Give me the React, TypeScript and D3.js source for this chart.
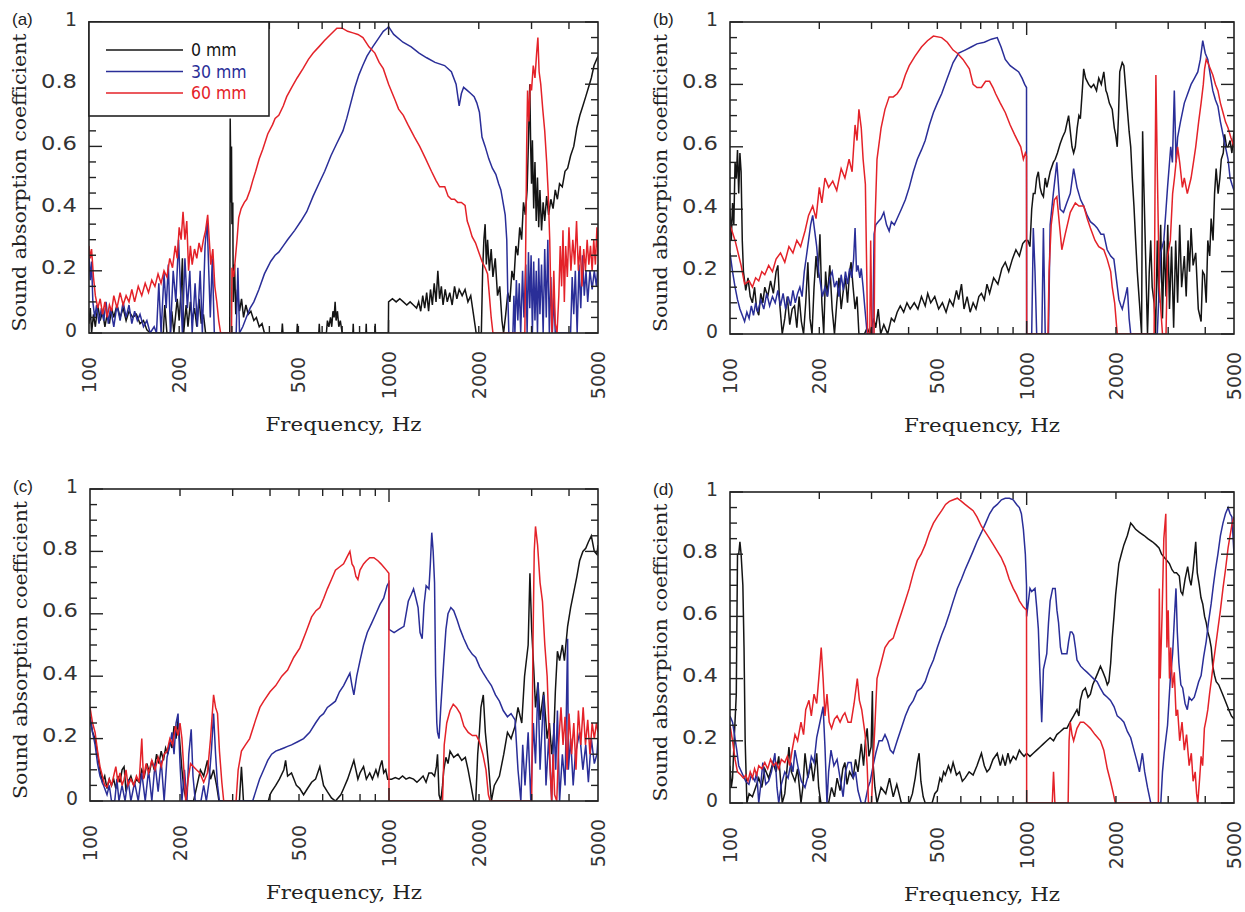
import React from "react";
import * as d3 from "d3";

type Pt = [number, number];

// ---------- data: [frequency Hz, absorption coefficient] ----------
const a0: Pt[] = [[100,0.03],[101,0.08],[102,0],[103.5,0.06],[105,0.02],[107,0.09],[109,0.04],[111,0.07],[113,0.02],[115,0.06],[117,0.03],[119,0.08],[121,0.05],[124,0.09],[127,0.05],[130,0.08],[133,0.04],[136,0.07],[140,0.05],[144,0.06],[148,0.03],[152,0.04],[156,0.01],[160,0],[177,0],[179,0.09],[182,0],[187,0],[189,0.07],[192,0],[197,0.11],[200,0.04],[203,0.14],[205,0.24],[207,0],[211,0.09],[214,0.02],[218,0.1],[221,0.04],[225,0.08],[229,0.02],[233,0.11],[237,0.03],[241,0.06],[245,0],[295,0],[296,0.69],[298,0.42],[299,0.6],[300,0.35],[302,0.42],[303,0.1],[306,0.22],[309,0.06],[313,0.14],[318,0.07],[323,0.11],[328,0.05],[334,0.09],[340,0.06],[347,0.07],[355,0.04],[362,0.05],[370,0.02],[378,0.03],[385,0],[440,0],[442,0.03],[444,0],[494,0],[496,0.03],[498,0],[585,0],[587,0.03],[589,0],[620,0],[625,0.04],[632,0.02],[640,0.05],[646,0.02],[652,0.07],[658,0.05],[663,0.1],[668,0.04],[675,0.07],[682,0.02],[690,0.04],[700,0],[760,0],[762,0.03],[764,0],[840,0],[842,0.03],[844,0],[900,0],[902,0.03],[904,0],[998,0],[1000,0.1],[1030,0.11],[1060,0.1],[1090,0.11],[1120,0.1],[1150,0.09],[1180,0.1],[1210,0.09],[1240,0.08],[1260,0.1],[1280,0.07],[1300,0.12],[1320,0.08],[1340,0.13],[1360,0.07],[1380,0.14],[1400,0.09],[1420,0.16],[1440,0.1],[1460,0.2],[1480,0.11],[1500,0.15],[1520,0.09],[1545,0.14],[1570,0.1],[1600,0.13],[1630,0.09],[1660,0.15],[1690,0.11],[1720,0.14],[1760,0.12],[1800,0.14],[1840,0.1],[1880,0.12],[1920,0.06],[1960,0],[2040,0],[2060,0.2],[2080,0.3],[2100,0.35],[2120,0.22],[2140,0.3],[2170,0.2],[2200,0.27],[2230,0.18],[2270,0.24],[2310,0.12],[2350,0.15],[2390,0.04],[2420,0],[2460,0.06],[2500,0.13],[2540,0.1],[2580,0.2],[2620,0.17],[2660,0.28],[2700,0.25],[2740,0.34],[2780,0.3],[2820,0.42],[2860,0.38],[2900,0.46],[2930,0.62],[2960,0.8],[2980,0.6],[3000,0.48],[3020,0.62],[3050,0.4],[3080,0.55],[3110,0.36],[3140,0.5],[3170,0.34],[3200,0.46],[3240,0.33],[3280,0.42],[3320,0.36],[3370,0.44],[3420,0.38],[3480,0.43],[3540,0.4],[3600,0.46],[3660,0.43],[3720,0.48],[3800,0.47],[3880,0.52],[3960,0.53],[4050,0.57],[4150,0.6],[4250,0.66],[4350,0.7],[4450,0.73],[4550,0.76],[4650,0.79],[4750,0.82],[4850,0.86],[4950,0.88],[5000,0.89]];

const a30: Pt[] = [[100,0.25],[101,0.17],[102,0.23],[103,0.1],[104.5,0.05],[106,0.09],[108,0.03],[110,0.08],[112,0.04],[114,0.1],[116,0.03],[118,0.08],[121,0.02],[124,0.09],[127,0.04],[130,0.1],[133,0.05],[136,0.09],[139,0.03],[142,0.07],[145,0.04],[148,0.06],[152,0.02],[156,0.04],[160,0],[165,0.02],[168,0],[171,0.16],[174,0],[178,0.19],[181,0.08],[184,0.22],[187,0],[191,0.2],[195,0.1],[199,0.3],[202,0.14],[205,0],[209,0.24],[213,0.08],[217,0.2],[221,0],[226,0.16],[230,0.02],[235,0.2],[239,0],[244,0.28],[248,0.36],[251,0.2],[254,0.05],[258,0.24],[262,0],[310,0],[314,0.21],[318,0],[326,0.02],[335,0.05],[345,0.08],[355,0.1],[369,0.14],[385,0.19],[404,0.23],[418,0.25],[430,0.26],[445,0.28],[460,0.3],[486,0.33],[510,0.36],[533,0.39],[560,0.44],[585,0.48],[612,0.52],[642,0.57],[672,0.61],[704,0.65],[725,0.69],[748,0.74],[772,0.79],[796,0.83],[820,0.86],[847,0.89],[885,0.92],[929,0.95],[960,0.97],[989,0.98],[1000,0.985],[1040,0.96],[1117,0.935],[1190,0.92],[1264,0.9],[1340,0.885],[1429,0.87],[1538,0.86],[1620,0.84],[1680,0.8],[1720,0.73],[1750,0.77],[1780,0.79],[1830,0.78],[1880,0.77],[1930,0.76],[1970,0.74],[2010,0.71],[2050,0.63],[2100,0.6],[2160,0.56],[2220,0.53],[2280,0.51],[2330,0.48],[2370,0.46],[2410,0.42],[2450,0.38],[2480,0.3],[2500,0.12],[2520,0],[2600,0],[2620,0.12],[2640,0],[2670,0.17],[2700,0.04],[2730,0.16],[2760,0],[2800,0.2],[2830,0.05],[2870,0.22],[2900,0],[2930,0.26],[2960,0.08],[2990,0.25],[3020,0],[3050,0.23],[3080,0.04],[3110,0.2],[3140,0],[3170,0.24],[3200,0.06],[3240,0.22],[3280,0],[3320,0.27],[3360,0.05],[3400,0.3],[3440,0],[3480,0.18],[3520,0],[3560,0.12],[3600,0],[4050,0],[4100,0.18],[4150,0.06],[4200,0.2],[4260,0],[4320,0.22],[4380,0.08],[4440,0.25],[4500,0.12],[4560,0.2],[4620,0.1],[4700,0.2],[4780,0.14],[4860,0.2],[4940,0.15],[5000,0.22]];

const a60: Pt[] = [[100,0.28],[101,0.24],[102,0.27],[103.5,0.18],[105,0.12],[107,0.08],[109,0.11],[111,0.06],[113,0.1],[115,0.05],[117,0.09],[119,0.07],[121,0.12],[124,0.08],[127,0.13],[130,0.09],[133,0.12],[136,0.1],[139,0.14],[142,0.1],[146,0.15],[150,0.12],[154,0.16],[158,0.13],[162,0.17],[166,0.15],[170,0.19],[174,0.16],[178,0.2],[182,0.18],[186,0.24],[190,0.21],[194,0.28],[197,0.24],[200,0.34],[203,0.3],[206,0.39],[209,0.3],[212,0.36],[215,0.2],[218,0.28],[221,0.22],[225,0.27],[229,0.24],[233,0.29],[237,0.26],[241,0.3],[245,0.33],[249,0.38],[252,0.3],[255,0.22],[259,0.27],[263,0.15],[267,0.1],[271,0.04],[275,0],[299,0],[300,0.21],[304,0.18],[308,0.24],[312,0.3],[316,0.37],[322,0.4],[330,0.42],[336,0.43],[345,0.46],[352,0.49],[360,0.52],[370,0.56],[380,0.59],[395,0.64],[410,0.67],[418,0.69],[430,0.7],[445,0.73],[457,0.76],[475,0.79],[495,0.82],[518,0.85],[540,0.88],[560,0.9],[585,0.92],[610,0.94],[640,0.96],[672,0.98],[700,0.98],[730,0.97],[760,0.965],[790,0.96],[821,0.95],[860,0.92],[900,0.9],[930,0.87],[960,0.85],[1000,0.8],[1050,0.75],[1080,0.72],[1120,0.7],[1160,0.67],[1220,0.63],[1270,0.6],[1330,0.56],[1390,0.52],[1440,0.49],[1480,0.47],[1540,0.47],[1580,0.44],[1620,0.43],[1660,0.43],[1700,0.42],[1750,0.42],[1800,0.41],[1830,0.36],[1860,0.34],[1900,0.31],[1950,0.29],[2000,0.26],[2050,0.23],[2100,0.21],[2140,0.19],[2170,0.12],[2200,0.05],[2230,0],[2850,0],[2870,0.3],[2890,0.6],[2910,0.78],[2940,0.68],[2970,0.8],[3000,0.78],[3040,0.86],[3080,0.82],[3120,0.9],[3150,0.95],[3180,0.84],[3220,0.8],[3270,0.72],[3320,0.65],[3370,0.55],[3410,0.45],[3450,0.3],[3480,0.12],[3510,0],[3560,0.2],[3600,0.03],[3650,0],[3700,0.12],[3740,0.28],[3780,0.15],[3820,0.33],[3860,0.1],[3900,0.28],[3950,0.18],[4000,0.34],[4060,0.2],[4120,0.3],[4180,0.22],[4240,0.36],[4300,0.2],[4360,0.28],[4420,0.15],[4480,0.27],[4540,0.2],[4600,0.3],[4660,0.22],[4720,0.28],[4780,0.2],[4840,0.3],[4900,0.22],[4960,0.34],[5000,0.25]];

const b0: Pt[] = [[100,0.4],[101,0.3],[102,0.42],[103,0.35],[104,0.55],[105,0.5],[106,0.59],[107,0.45],[108,0.58],[109,0.52],[110,0.3],[111,0.2],[113,0.14],[115,0.18],[117,0.12],[119,0.1],[121,0.15],[123,0.08],[125,0.06],[127,0.13],[129,0.1],[131,0.15],[134,0.12],[137,0.17],[140,0.13],[143,0.2],[145,0.22],[147,0.1],[150,0],[153,0.05],[156,0.12],[159,0.03],[162,0.08],[165,0.09],[168,0.02],[171,0.12],[174,0.04],[177,0],[180,0.1],[183,0.23],[186,0.05],[189,0],[192,0.15],[195,0.25],[198,0.18],[201,0.32],[204,0.1],[207,0],[210,0.2],[213,0.12],[217,0.22],[221,0.08],[225,0],[229,0.1],[233,0.18],[237,0.08],[241,0.14],[245,0.18],[249,0.1],[253,0.2],[256,0.23],[260,0.15],[264,0.08],[268,0.12],[272,0],[284,0],[290,0.02],[296,0],[305,0.05],[310,0.02],[316,0.08],[322,0],[330,0.03],[340,0],[350,0.05],[358,0.04],[366,0.07],[375,0.09],[385,0.07],[395,0.1],[405,0.08],[418,0.1],[430,0.08],[442,0.12],[455,0.09],[464,0.13],[475,0.1],[490,0.12],[505,0.08],[520,0.1],[535,0.07],[550,0.11],[565,0.09],[580,0.14],[590,0.11],[603,0.16],[615,0.08],[630,0.12],[645,0.07],[660,0.1],[675,0.08],[690,0.12],[704,0.13],[720,0.11],[735,0.16],[750,0.13],[774,0.18],[800,0.16],[825,0.21],[847,0.23],[870,0.2],[895,0.24],[920,0.27],[945,0.25],[970,0.29],[990,0.3],[1010,0.3],[1026,0.28],[1040,0.4],[1053,0.45],[1067,0.45],[1081,0.5],[1095,0.52],[1110,0.47],[1124,0.45],[1139,0.44],[1155,0.5],[1170,0.47],[1200,0.52],[1230,0.55],[1248,0.56],[1270,0.58],[1297,0.61],[1320,0.63],[1349,0.65],[1370,0.68],[1385,0.7],[1403,0.65],[1422,0.6],[1440,0.58],[1459,0.6],[1480,0.66],[1500,0.7],[1517,0.69],[1540,0.78],[1557,0.85],[1580,0.82],[1618,0.8],[1650,0.79],[1683,0.8],[1720,0.78],[1750,0.82],[1785,0.8],[1820,0.84],[1850,0.78],[1868,0.77],[1900,0.74],[1943,0.72],[1975,0.66],[1995,0.64],[2020,0.6],[2040,0.7],[2060,0.84],[2073,0.85],[2100,0.87],[2127,0.86],[2160,0.78],[2185,0.72],[2215,0.65],[2243,0.6],[2270,0.5],[2300,0.41],[2330,0.3],[2360,0.2],[2400,0.1],[2440,0],[2460,0.65],[2480,0.5],[2510,0.3],[2555,0],[2590,0.2],[2620,0.3],[2650,0.15],[2690,0.1],[2720,0],[2757,0.3],[2790,0.1],[2830,0.35],[2870,0.05],[2910,0.3],[2950,0.12],[2990,0.35],[3030,0.08],[3080,0.28],[3130,0.02],[3180,0.3],[3228,0.1],[3280,0.35],[3330,0.15],[3400,0.25],[3450,0.12],[3500,0.3],[3540,0.2],[3583,0.34],[3640,0.22],[3715,0.26],[3790,0.08],[3873,0.04],[3920,0.2],[3973,0.19],[4030,0.1],[4080,0.3],[4140,0.25],[4187,0.37],[4250,0.3],[4300,0.45],[4353,0.53],[4420,0.45],[4480,0.5],[4530,0.56],[4600,0.58],[4650,0.64],[4720,0.6],[4775,0.6],[4850,0.62],[4920,0.58],[5000,0.65]];

const b30: Pt[] = [[100,0.26],[102,0.2],[104,0.15],[106,0.11],[108,0.08],[110,0.06],[112,0.04],[114,0.07],[116,0.05],[118,0.09],[120,0.06],[122,0.1],[124,0.07],[127,0.11],[130,0.08],[133,0.13],[136,0.09],[139,0.12],[142,0.1],[145,0.14],[148,0.09],[151,0.13],[154,0.08],[157,0.12],[160,0.09],[163,0.14],[166,0.1],[169,0.13],[172,0.15],[175,0.12],[178,0.2],[181,0.25],[184,0.3],[187,0.35],[190,0.38],[193,0.33],[196,0.28],[199,0.2],[202,0.16],[205,0.12],[209,0.15],[213,0.12],[217,0.18],[221,0.2],[225,0.15],[229,0.17],[233,0.12],[237,0.19],[241,0.14],[245,0.2],[249,0.16],[253,0.21],[257,0.18],[261,0.24],[264,0.34],[267,0.2],[270,0.22],[274,0.18],[277,0.21],[281,0.15],[285,0.08],[290,0],[303,0],[306,0.32],[310,0.35],[316,0.36],[323,0.37],[330,0.39],[337,0.35],[344,0.33],[350,0.36],[358,0.35],[366,0.37],[378,0.4],[390,0.43],[402,0.47],[415,0.52],[428,0.56],[442,0.59],[455,0.62],[470,0.67],[485,0.71],[500,0.74],[517,0.77],[540,0.82],[565,0.87],[590,0.9],[620,0.91],[650,0.92],[680,0.93],[720,0.935],[760,0.945],[796,0.95],[820,0.92],[847,0.88],[880,0.86],[910,0.85],[940,0.84],[965,0.82],[985,0.8],[999,0.79],[1000,0],[1040,0],[1053,0.34],[1067,0.2],[1081,0],[1125,0],[1139,0.34],[1155,0],[1185,0],[1200,0.35],[1230,0.45],[1264,0.55],[1297,0.4],[1331,0.39],[1365,0.42],[1403,0.45],[1440,0.53],[1478,0.47],[1520,0.43],[1557,0.41],[1600,0.38],[1640,0.36],[1690,0.35],[1728,0.34],[1780,0.32],[1820,0.32],[1868,0.27],[1920,0.25],[1968,0.24],[2010,0.17],[2046,0.11],[2080,0.09],[2101,0.08],[2150,0.12],[2185,0.15],[2215,0.05],[2243,0],[2757,0],[2800,0.16],[2830,0.26],[2900,0.3],[2950,0.4],[2985,0.47],[3060,0.6],[3100,0.55],[3146,0.78],[3190,0.55],[3228,0.63],[3300,0.68],[3400,0.74],[3490,0.77],[3583,0.8],[3680,0.82],[3775,0.84],[3850,0.88],[3923,0.94],[4000,0.9],[4080,0.88],[4160,0.83],[4242,0.78],[4330,0.75],[4413,0.73],[4500,0.68],[4590,0.64],[4680,0.6],[4775,0.56],[4850,0.5],[4920,0.48],[5000,0.46]];

const b60: Pt[] = [[100,0.35],[104,0.3],[109,0.22],[112,0.16],[116,0.17],[119,0.15],[122,0.18],[125,0.17],[128,0.2],[131,0.19],[135,0.22],[139,0.2],[143,0.24],[148,0.26],[153,0.23],[158,0.28],[163,0.26],[168,0.3],[173,0.28],[179,0.33],[184,0.38],[190,0.41],[195,0.37],[200,0.47],[204,0.42],[209,0.5],[215,0.47],[222,0.49],[229,0.46],[237,0.53],[244,0.5],[252,0.56],[258,0.52],[264,0.67],[268,0.62],[272,0.72],[277,0.66],[281,0.56],[286,0.48],[289,0.2],[291,0],[296,0],[298,0.3],[301,0],[306,0],[308,0.35],[313,0.56],[323,0.66],[333,0.72],[344,0.76],[355,0.76],[366,0.77],[378,0.79],[390,0.83],[402,0.86],[420,0.89],[442,0.92],[463,0.94],[485,0.955],[517,0.95],[540,0.935],[565,0.91],[584,0.9],[610,0.88],[641,0.85],[660,0.8],[680,0.79],[704,0.79],[727,0.81],[750,0.81],[770,0.79],[786,0.77],[815,0.74],[847,0.71],[880,0.67],[910,0.64],[932,0.62],[955,0.6],[975,0.56],[990,0.58],[999,0.57],[1000,0],[1180,0],[1190,0.2],[1210,0.35],[1240,0.43],[1264,0.44],[1290,0.35],[1314,0.27],[1349,0.32],[1403,0.39],[1459,0.42],[1500,0.41],[1557,0.41],[1600,0.37],[1640,0.34],[1700,0.3],[1750,0.28],[1820,0.27],[1868,0.24],[1920,0.2],[1943,0.15],[1980,0.1],[2020,0],[2690,0],[2710,0.5],[2727,0.83],[2760,0.5],[2800,0.15],[2870,0],[2950,0],[2985,0.25],[3050,0.3],[3105,0.45],[3150,0.5],[3228,0.6],[3280,0.55],[3350,0.47],[3400,0.5],[3480,0.45],[3583,0.5],[3650,0.55],[3715,0.6],[3800,0.68],[3873,0.74],[3940,0.8],[3980,0.85],[4030,0.88],[4080,0.87],[4160,0.85],[4242,0.83],[4330,0.8],[4413,0.78],[4500,0.74],[4590,0.71],[4680,0.68],[4775,0.66],[4880,0.63],[5000,0.6]];

const c0: Pt[] = [[100,0.27],[102,0.22],[104,0.2],[106,0.15],[108,0.1],[110,0.06],[112,0.08],[114,0.04],[116,0.07],[118,0.05],[120,0.07],[122,0.04],[124,0.08],[126,0.06],[128,0.1],[130,0.11],[132,0.03],[134,0.06],[137,0.08],[140,0.05],[143,0.07],[146,0.06],[149,0.1],[152,0.08],[155,0.12],[158,0.09],[161,0.13],[164,0.1],[167,0.15],[170,0.12],[173,0.16],[176,0.13],[179,0.17],[182,0.15],[185,0.19],[188,0.17],[191,0.24],[194,0.2],[197,0.26],[200,0.18],[203,0.1],[206,0.04],[210,0],[222,0],[228,0.05],[234,0.1],[240,0.08],[247,0.13],[253,0.07],[259,0.1],[265,0.05],[270,0],[316,0],[321,0.11],[326,0],[395,0],[400,0.02],[405,0.03],[418,0.05],[430,0.07],[445,0.1],[451,0.13],[458,0.08],[472,0.09],[490,0.05],[503,0.04],[518,0.02],[534,0.04],[551,0.06],[568,0.07],[587,0.11],[604,0.05],[622,0.03],[642,0.01],[662,0],[690,0.02],[705,0.04],[727,0.07],[745,0.1],[763,0.13],[787,0.07],[800,0.09],[822,0.11],[840,0.07],[862,0.09],[880,0.07],[904,0.1],[918,0.08],[933,0.11],[947,0.13],[960,0.09],[975,0.1],[990,0.07],[1000,0.07],[1020,0.07],[1050,0.075],[1080,0.07],[1110,0.08],[1140,0.07],[1170,0.075],[1208,0.07],[1240,0.06],[1270,0.07],[1300,0.08],[1330,0.06],[1360,0.09],[1390,0.09],[1420,0.08],[1440,0.11],[1453,0.15],[1470,0.02],[1490,0],[1510,0.05],[1525,0.1],[1550,0.14],[1575,0.12],[1600,0.16],[1646,0.14],[1700,0.15],[1750,0.13],[1800,0.14],[1839,0.1],[1880,0.05],[1920,0],[1950,0],[1980,0.15],[2006,0.22],[2030,0.3],[2067,0.34],[2100,0.22],[2150,0.12],[2200,0],[2250,0.05],[2340,0.08],[2420,0.15],[2490,0.22],[2560,0.2],[2640,0.24],[2700,0.3],[2780,0.25],[2840,0.4],[2920,0.5],[2960,0.73],[3000,0.55],[3050,0.42],[3090,0.3],[3150,0.38],[3200,0.26],[3290,0.35],[3380,0.2],[3440,0.25],[3500,0.15],[3560,0.22],[3600,0.35],[3658,0.48],[3720,0.45],[3800,0.5],[3860,0.45],[3957,0.56],[4050,0.62],[4150,0.67],[4250,0.72],[4340,0.77],[4450,0.8],[4550,0.81],[4643,0.83],[4750,0.85],[4860,0.8],[4960,0.79],[5000,0.82]];

const c30: Pt[] = [[100,0.27],[102,0.22],[104,0.18],[106,0.12],[108,0.08],[110,0.06],[112,0.04],[114,0.02],[116,0.05],[118,0],[121,0],[123,0.07],[125,0],[128,0.05],[131,0],[134,0.07],[137,0],[141,0.06],[145,0],[149,0.09],[153,0],[157,0.1],[161,0],[165,0.12],[169,0.03],[173,0.13],[177,0],[181,0.14],[185,0.18],[188,0.22],[191,0.15],[194,0.25],[197,0.28],[200,0.12],[203,0],[207,0.1],[211,0],[214,0.15],[218,0.23],[221,0.08],[225,0],[235,0],[240,0.05],[245,0],[250,0.06],[255,0.17],[259,0.28],[263,0.15],[267,0.05],[271,0],[350,0],[358,0.03],[369,0.07],[381,0.1],[393,0.13],[405,0.15],[418,0.16],[432,0.165],[445,0.17],[458,0.175],[472,0.18],[495,0.19],[518,0.2],[543,0.22],[568,0.25],[587,0.27],[604,0.28],[622,0.3],[642,0.31],[662,0.32],[683,0.35],[705,0.37],[722,0.39],[740,0.41],[752,0.37],[763,0.34],[780,0.4],[800,0.45],[822,0.5],[846,0.54],[875,0.57],[904,0.6],[933,0.63],[960,0.65],[985,0.69],[999,0.7],[1000,0.55],[1040,0.54],[1080,0.55],[1122,0.56],[1160,0.64],[1185,0.66],[1208,0.68],[1230,0.65],[1251,0.62],[1270,0.54],[1291,0.52],[1310,0.63],[1331,0.69],[1360,0.68],[1375,0.76],[1390,0.86],[1405,0.8],[1420,0.7],[1432,0.4],[1445,0.25],[1453,0.22],[1470,0.2],[1490,0.3],[1525,0.45],[1550,0.55],[1575,0.6],[1610,0.62],[1646,0.61],[1690,0.58],[1730,0.55],[1780,0.52],[1839,0.49],[1900,0.47],[1950,0.46],[2010,0.43],[2067,0.41],[2130,0.39],[2200,0.37],[2270,0.34],[2340,0.32],[2410,0.29],[2490,0.27],[2560,0.28],[2640,0.26],[2700,0.1],[2760,0],[2800,0.18],[2850,0.05],[2920,0.22],[2980,0],[3040,0.25],[3090,0.12],[3150,0.38],[3200,0.1],[3290,0.34],[3350,0.05],[3420,0.2],[3500,0],[3560,0.25],[3610,0.1],[3658,0.29],[3720,0],[3800,0.15],[3880,0.05],[3957,0.52],[3980,0.1],[4050,0.2],[4130,0.05],[4200,0.15],[4340,0.22],[4450,0.1],[4550,0.18],[4643,0.06],[4750,0.2],[4860,0.12],[4960,0.15],[5000,0.2]];

const c60: Pt[] = [[100,0.3],[102,0.25],[104,0.22],[106,0.16],[108,0.11],[110,0.08],[112,0.05],[114,0.045],[116,0.07],[118,0.05],[120,0.08],[122,0.11],[124,0.06],[126,0.09],[128,0.05],[130,0.07],[132,0.1],[134,0.05],[137,0.07],[140,0.05],[143,0.08],[146,0.06],[149,0.2],[151,0.07],[154,0.12],[157,0.09],[161,0.13],[165,0.1],[169,0.14],[173,0.11],[177,0.15],[181,0.16],[185,0.2],[189,0.18],[193,0.24],[197,0.21],[200,0.25],[203,0.2],[206,0.1],[209,0],[213,0.07],[217,0.12],[222,0.11],[227,0.1],[233,0.09],[240,0.06],[247,0.09],[253,0.2],[259,0.34],[263,0.3],[267,0.28],[271,0.16],[276,0.06],[280,0],[308,0],[313,0.1],[321,0.16],[331,0.18],[342,0.2],[358,0.26],[370,0.3],[381,0.32],[400,0.35],[418,0.37],[438,0.4],[458,0.42],[480,0.46],[503,0.49],[527,0.54],[551,0.59],[570,0.61],[587,0.62],[605,0.65],[622,0.68],[642,0.71],[662,0.74],[683,0.75],[705,0.76],[722,0.78],[740,0.8],[752,0.76],[763,0.75],[775,0.72],[787,0.71],[800,0.74],[822,0.76],[840,0.77],[862,0.78],[890,0.78],[918,0.77],[940,0.76],[960,0.75],[980,0.74],[999,0.73],[1000,0],[1510,0],[1530,0.18],[1560,0.25],[1600,0.29],[1640,0.31],[1680,0.3],[1730,0.28],[1780,0.24],[1840,0.22],[1900,0.21],[1960,0.21],[2006,0.19],[2060,0.15],[2110,0.1],[2150,0.02],[2180,0],[3000,0],[3030,0.5],[3060,0.8],[3090,0.88],[3140,0.82],[3200,0.7],[3260,0.64],[3320,0.5],[3380,0.4],[3420,0.26],[3460,0.1],[3500,0],[3540,0.15],[3580,0.02],[3640,0],[3700,0.2],[3760,0.3],[3820,0.18],[3880,0.27],[3940,0.1],[4000,0.28],[4080,0.15],[4150,0.25],[4220,0.1],[4300,0.29],[4380,0.18],[4460,0.3],[4540,0.18],[4620,0.26],[4700,0.15],[4780,0.25],[4860,0.2],[4940,0.25],[5000,0.22]];

const d0: Pt[] = [[100,0.12],[101,0.05],[102,0.08],[103.5,0.22],[105,0.35],[106,0.8],[107,0.8],[108,0.84],[109,0.8],[110.5,0.7],[111.5,0.5],[112.5,0.2],[114,0],[116,0.03],[119,0.02],[122,0.05],[125,0.08],[128,0.05],[131,0.11],[135,0.08],[139.5,0.13],[143,0.1],[146,0.15],[150,0],[153,0.03],[156,0.12],[158,0.18],[161,0.1],[165.6,0.07],[169,0.11],[173.5,0],[176,0.05],[179,0.16],[183,0.08],[187.5,0.13],[191,0.07],[196,0.16],[199,0.05],[202.5,0],[215,0],[220,0.05],[225,0.02],[229.6,0.08],[235,0.04],[240,0.11],[244,0.13],[248,0.06],[253,0.1],[260,0.08],[265,0.14],[270,0.1],[277,0.19],[282,0.12],[286,0.2],[290,0.24],[294,0.15],[299,0.18],[302,0.36],[304,0.12],[308,0.05],[313,0],[323,0.05],[335,0.03],[345,0.08],[355,0.02],[365,0.06],[378,0],[402,0],[412,0.03],[421,0.08],[428,0.13],[434,0.16],[440,0.07],[448,0.02],[455,0],[480,0],[490,0.03],[500,0.04],[510,0.08],[517,0.07],[525,0.1],[532,0.09],[545,0.12],[555,0.1],[565,0.13],[580,0.09],[594,0.1],[607,0.07],[620,0.08],[640,0.1],[660,0.09],[680,0.12],[704,0.16],[720,0.12],[735,0.1],[750,0.11],[770,0.14],[796,0.16],[815,0.12],[830,0.15],[847,0.12],[865,0.16],[880,0.13],[901,0.15],[920,0.14],[945,0.17],[960,0.16],[980,0.15],[1000,0.16],[1026,0.15],[1053,0.16],[1081,0.17],[1110,0.18],[1139,0.19],[1169,0.2],[1200,0.21],[1232,0.2],[1264,0.22],[1300,0.23],[1335,0.24],[1367,0.24],[1400,0.26],[1440,0.28],[1478,0.3],[1500,0.28],[1517,0.33],[1545,0.36],[1577,0.37],[1610,0.34],[1640,0.35],[1670,0.38],[1705,0.4],[1740,0.42],[1773,0.44],[1810,0.42],[1844,0.4],[1870,0.38],[1893,0.39],[1920,0.45],[1943,0.53],[1970,0.6],[1995,0.67],[2020,0.72],[2046,0.77],[2085,0.8],[2127,0.83],[2185,0.86],[2243,0.9],[2290,0.89],[2330,0.88],[2400,0.87],[2488,0.86],[2560,0.85],[2655,0.84],[2730,0.83],[2794,0.82],[2850,0.8],[2908,0.79],[2970,0.78],[3028,0.77],[3090,0.75],[3146,0.74],[3200,0.74],[3270,0.73],[3310,0.68],[3357,0.67],[3420,0.72],[3490,0.76],[3540,0.72],[3583,0.7],[3640,0.75],[3715,0.84],[3760,0.74],[3820,0.7],[3870,0.66],[3923,0.64],[3980,0.6],[4030,0.58],[4080,0.55],[4135,0.53],[4190,0.5],[4240,0.44],[4300,0.41],[4355,0.39],[4440,0.38],[4530,0.36],[4620,0.34],[4710,0.32],[4800,0.3],[4900,0.28],[5000,0.27]];

const d30: Pt[] = [[100,0.28],[102,0.26],[103.5,0.22],[105.4,0.17],[107,0.12],[110.5,0.09],[113,0.07],[115.8,0.06],[118,0.09],[121.3,0.07],[123,0.1],[125,0],[127,0.06],[129,0.13],[132,0.06],[135,0.07],[138,0.1],[141.7,0.16],[144,0.05],[146,0],[149,0.06],[153,0.1],[157,0.08],[160.5,0.13],[163,0.1],[165.6,0.17],[170,0.11],[174,0.07],[179,0.05],[184.6,0.1],[188,0.15],[192,0.13],[196,0.21],[200,0.25],[203,0.28],[206,0.31],[209,0.18],[212.3,0],[215,0.1],[219,0.17],[224,0.12],[229.6,0.14],[235,0.08],[240.6,0.02],[245,0.1],[250,0.13],[256,0.13],[260,0.08],[265,0.1],[270,0.04],[277,0],[285,0],[292,0.05],[297,0.07],[303.7,0.12],[310,0.16],[318,0.2],[326,0.2],[333,0.22],[340,0.2],[347,0.17],[355,0.16],[366,0.2],[378,0.24],[390,0.28],[402,0.31],[415,0.33],[428,0.36],[442,0.37],[455,0.39],[470,0.43],[485,0.46],[500,0.5],[517,0.54],[532,0.57],[549.5,0.61],[566,0.65],[584,0.69],[603,0.72],[620,0.75],[640,0.78],[660,0.81],[680,0.84],[704,0.87],[727,0.9],[750,0.93],[773,0.95],[796,0.96],[822,0.975],[847,0.98],[875,0.98],[901,0.975],[925,0.96],[945,0.95],[960,0.93],[975,0.88],[990,0.8],[999,0.7],[1000,0.6],[1026,0.69],[1040,0.68],[1067,0.69],[1081,0.63],[1095,0.56],[1110,0.4],[1124,0.26],[1132,0.35],[1139,0.43],[1169,0.48],[1185,0.58],[1200,0.65],[1224,0.69],[1248,0.69],[1265,0.62],[1281,0.58],[1300,0.5],[1314,0.48],[1340,0.48],[1367,0.48],[1385,0.52],[1403,0.55],[1420,0.55],[1440,0.54],[1460,0.5],[1478,0.46],[1500,0.45],[1520,0.44],[1557,0.43],[1600,0.42],[1640,0.41],[1680,0.4],[1728,0.39],[1770,0.37],[1820,0.35],[1870,0.34],[1917,0.33],[1970,0.31],[2020,0.28],[2080,0.27],[2127,0.26],[2185,0.23],[2243,0.21],[2300,0.17],[2360,0.13],[2400,0.1],[2455,0.16],[2500,0.1],[2555,0.05],[2620,0],[2833,0],[2870,0.1],[2908,0.16],[2950,0.21],[2985,0.25],[3050,0.4],[3105,0.48],[3150,0.6],[3187,0.69],[3220,0.55],[3260,0.45],[3310,0.38],[3357,0.37],[3420,0.32],[3480,0.3],[3530,0.34],[3600,0.33],[3673,0.34],[3750,0.37],[3800,0.39],[3873,0.41],[3950,0.47],[4030,0.52],[4100,0.58],[4187,0.64],[4260,0.7],[4330,0.75],[4413,0.8],[4500,0.86],[4590,0.9],[4680,0.93],[4775,0.95],[4850,0.93],[4920,0.92],[5000,0.8]];

const d60: Pt[] = [[100,0.25],[102,0.2],[104,0.14],[106,0.1],[108.8,0.09],[111,0.08],[113,0.09],[115,0.07],[117,0.1],[119,0.08],[121,0.11],[123,0.09],[125,0.12],[128,0.11],[131,0.13],[134,0.11],[137,0.14],[140,0.12],[143,0.13],[146,0.11],[149,0.14],[153,0.13],[156,0.15],[159,0.12],[162,0.17],[165.6,0.22],[169,0.2],[173.5,0.26],[177,0.22],[180,0.3],[184.6,0.33],[188,0.28],[192,0.35],[196,0.32],[200,0.42],[203,0.5],[206,0.4],[209,0.28],[212.3,0.35],[216,0.26],[220,0.24],[225,0.27],[229.6,0.28],[235,0.26],[240,0.28],[244,0.29],[250,0.26],[256,0.26],[262,0.32],[268.6,0.4],[273,0.33],[278,0.3],[285.5,0.22],[290,0.12],[293,0],[300,0],[303.7,0.13],[308,0.25],[313,0.4],[323,0.45],[333,0.5],[344,0.52],[355,0.53],[366,0.57],[378,0.61],[390,0.65],[402,0.69],[415,0.74],[428,0.78],[441,0.8],[455,0.83],[470,0.87],[485,0.9],[500,0.92],[517,0.94],[533,0.96],[549,0.97],[566,0.975],[584,0.98],[603,0.97],[620,0.96],[640,0.95],[660,0.94],[680,0.92],[704,0.89],[727,0.87],[750,0.85],[773,0.83],[796,0.81],[820,0.79],[847,0.76],[873,0.72],[901,0.69],[925,0.67],[945,0.65],[975,0.63],[999,0.62],[1000,0],[1220,0],[1232,0.1],[1245,0],[1380,0],[1390,0.2],[1403,0.26],[1422,0.22],[1440,0.2],[1478,0.24],[1517,0.26],[1557,0.26],[1600,0.25],[1640,0.24],[1700,0.22],[1773,0.2],[1820,0.17],[1870,0.11],[1917,0.07],[1960,0.03],[1990,0],[2780,0],[2800,0.69],[2820,0.4],[2860,0.6],[2900,0.85],[2945,0.93],[2970,0.5],[3000,0.62],[3030,0.4],[3060,0.5],[3100,0.37],[3146,0.42],[3190,0.28],[3228,0.3],[3280,0.2],[3340,0.26],[3400,0.17],[3460,0.22],[3530,0.12],[3590,0.16],[3640,0.07],[3700,0.1],[3740,0.03],[3775,0],[3830,0.08],[3873,0.15],[3920,0.12],[3973,0.24],[4030,0.27],[4080,0.3],[4135,0.35],[4200,0.4],[4260,0.45],[4330,0.5],[4413,0.56],[4500,0.62],[4590,0.69],[4680,0.75],[4775,0.82],[4850,0.86],[4930,0.9],[5000,0.92]];

const seriesNames = ["0 mm", "30 mm", "60 mm"];
const seriesColors = ["#141414", "#2a2e98", "#e42229"];
const yTickLabels = [0, 0.2, 0.4, 0.6, 0.8, 1];
const xTickLabels = [100, 200, 500, 1000, 2000, 5000];
const xTicks = [200, 300, 400, 500, 600, 700, 800, 900, 1000, 2000, 3000, 4000];

type PanelSpec = {
  tag: string;
  left: number;
  top: number;
  right: number;
  bottom: number;
  series: Pt[][];
  legend: boolean;
};

const panels: PanelSpec[] = [
  { tag: "(a)", left: 89, top: 22, right: 598, bottom: 333, series: [a0, a30, a60], legend: true },
  { tag: "(b)", left: 730, top: 22, right: 1234, bottom: 334, series: [b0, b30, b60], legend: false },
  { tag: "(c)", left: 90, top: 489, right: 598, bottom: 801, series: [c0, c30, c60], legend: false },
  { tag: "(d)", left: 730, top: 492, right: 1234, bottom: 803, series: [d0, d30, d60], legend: false },
];

const sansFont = "'DejaVu Sans', Verdana, sans-serif";
const serifFont = "'DejaVu Serif', serif";

function Panel(p: PanelSpec) {
  const x = d3.scaleLog().domain([100, 5000]).range([p.left, p.right]);
  const y = d3.scaleLinear().domain([0, 1]).range([p.bottom, p.top]);
  const line = d3
    .line<Pt>()
    .x((d) => x(d[0]))
    .y((d) => y(d[1]));
  const clipId = "clip" + p.tag.replace(/\W/g, "");
  const yMinor = d3.range(0, 21).map((i) => i / 20);
  const w = p.right - p.left;
  const h = p.bottom - p.top;
  const legX = p.left;
  const legY = p.top;
  return (
    <g>
      <defs>
        <clipPath id={clipId}>
          <rect x={p.left} y={p.top} width={w} height={h} />
        </clipPath>
      </defs>
      <g clipPath={`url(#${clipId})`}>
        {p.series.map((s, i) => (
          <path
            key={i}
            d={line(s) || ""}
            fill="none"
            stroke={seriesColors[i]}
            strokeWidth={1.5}
            strokeLinejoin="miter"
          />
        ))}
      </g>
      {yMinor.map((v, i) => {
        const major = i % 4 === 0;
        const len = major ? 13 : 7;
        const yy = y(v);
        return (
          <g key={"yt" + i} stroke="#222" strokeWidth={1.4}>
            <line x1={p.left} x2={p.left + len} y1={yy} y2={yy} />
            <line x1={p.right} x2={p.right - len} y1={yy} y2={yy} />
          </g>
        );
      })}
      {xTicks.map((f, i) => {
        const len = f === 1000 ? 13 : 7;
        const xx = x(f);
        return (
          <g key={"xt" + i} stroke="#222" strokeWidth={1.4}>
            <line x1={xx} x2={xx} y1={p.top} y2={p.top + len} />
            <line x1={xx} x2={xx} y1={p.bottom} y2={p.bottom - len} />
          </g>
        );
      })}
      <rect x={p.left} y={p.top} width={w} height={h} fill="none" stroke="#222" strokeWidth={1.6} />
      {yTickLabels.map((v) => {
        const s = String(v);
        return (
          <text
            key={"yl" + v}
            x={p.left - 12}
            y={y(v) + 3.5}
            textAnchor="end"
            fontFamily={sansFont}
            fontSize={20}
            fill="#333"
            textLength={s.length * 12}
            lengthAdjust="spacingAndGlyphs"
          >
            {s}
          </text>
        );
      })}
      {xTickLabels.map((f) => (
        <text
          key={"xl" + f}
          transform={`translate(${x(f) + 7},${p.bottom + 42}) rotate(-90)`}
          textAnchor="middle"
          fontFamily={sansFont}
          fontSize={19}
          fill="#333"
        >
          {String(f)}
        </text>
      ))}
      <text
        x={(p.left + p.right) / 2}
        y={p.bottom + 98}
        textAnchor="middle"
        fontFamily={serifFont}
        fontSize={19}
        fill="#222"
        textLength={156}
        lengthAdjust="spacingAndGlyphs"
      >
        Frequency, Hz
      </text>
      <text
        transform={`translate(${p.left - 63},${(p.top + p.bottom) / 2 + 5}) rotate(-90)`}
        textAnchor="middle"
        fontFamily={serifFont}
        fontSize={18.5}
        fill="#222"
        textLength={298}
        lengthAdjust="spacingAndGlyphs"
      >
        Sound absorption coefficient
      </text>
      <text x={p.left - 77} y={p.top + 3} fontFamily="'Liberation Sans', Arial, sans-serif" fontSize={17} fill="#222">
        {p.tag}
      </text>
      {p.legend && (
        <g>
          <rect x={legX} y={legY} width={180} height={94} fill="#fff" stroke="#222" strokeWidth={1.6} />
          {seriesNames.map((n, i) => (
            <g key={n}>
              <line
                x1={legX + 17}
                x2={legX + 94}
                y1={legY + 28 + i * 21.5}
                y2={legY + 28 + i * 21.5}
                stroke={seriesColors[i]}
                strokeWidth={1.5}
              />
              <text
                x={legX + 102}
                y={legY + 34 + i * 21.5}
                fontFamily="'DejaVu Sans Condensed', 'DejaVu Sans', sans-serif"
                fontSize={17.5}
                fill={seriesColors[i]}
              >
                {n}
              </text>
            </g>
          ))}
        </g>
      )}
    </g>
  );
}

export default function App() {
  return (
    <svg
      width={1245}
      height={912}
      style={{ position: "absolute", left: 0, top: 0, background: "#fff" }}
    >
      <rect x={0} y={0} width={1245} height={912} fill="#fff" />
      {panels.map((p) => (
        <Panel key={p.tag} {...p} />
      ))}
    </svg>
  );
}
